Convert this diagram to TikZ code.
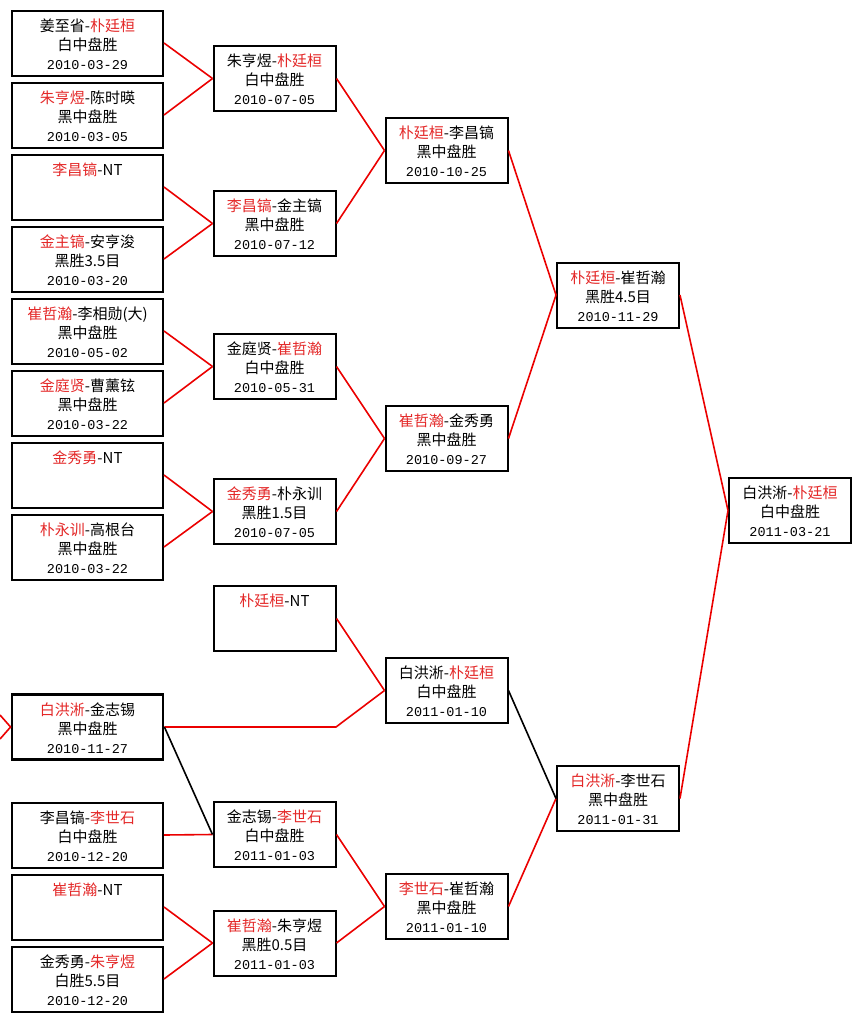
\documentclass[tikz,border=0pt]{standalone}
\usepackage{fontspec}
\setmainfont{Noto Sans CJK SC}
\newfontfamily\datefont{Liberation Mono}
\definecolor{namered}{RGB}{228,40,40}
\definecolor{linered}{RGB}{235,0,0}
\newcommand{\pwin}[1]{\textcolor{namered}{#1}}
\newcommand{\game}[3]{\rule{0pt}{20pt}#1\\\strut#2\\{\datefont\fontsize{13.5}{19}\selectfont\strut#3}}

\begin{document}
\begin{tikzpicture}[x=1pt, y=-1pt,
    game/.style={draw=black, line width=2pt, fill=white, minimum height=65pt, inner sep=0pt, align=center, font=\fontsize{15}{19}\selectfont},
    wide/.style={game, minimum width=151pt},
    narrow/.style={game, minimum width=122pt},
    won/.style={line width=1.6pt, linered},
    lost/.style={line width=1.6pt, black}]
    \useasboundingbox[fill=white] (0,0) rectangle (860,1021);

    % First round
    \node[wide] (R1a) at (87.5,43) {\game{姜至省-\pwin{朴廷桓}}{白中盘胜}{2010-03-29}};
    \node[wide] (R1b) at (87.5,115) {\game{\pwin{朱亨煜}-陈时暎}{黑中盘胜}{2010-03-05}};
    \node[wide] (R1c) at (87.5,187) {\game{\pwin{李昌镐}-NT}{}{}};
    \node[wide] (R1d) at (87.5,259) {\game{\pwin{金主镐}-安亨浚}{黑胜3.5目}{2010-03-20}};
    \node[wide] (R1e) at (87.5,331) {\game{\pwin{崔哲瀚}-李相勋(大)}{黑中盘胜}{2010-05-02}};
    \node[wide] (R1f) at (87.5,403) {\game{\pwin{金庭贤}-曹薰铉}{黑中盘胜}{2010-03-22}};
    \node[wide] (R1g) at (87.5,475) {\game{\pwin{金秀勇}-NT}{}{}};
    \node[wide] (R1h) at (87.5,547) {\game{\pwin{朴永训}-高根台}{黑中盘胜}{2010-03-22}};
    \node[wide, line width=2.8pt] (Wild) at (87.5,727) {\game{\pwin{白洪淅}-金志锡}{黑中盘胜}{2010-11-27}};
    \node[wide] (R1k) at (87.5,835) {\game{李昌镐-\pwin{李世石}}{白中盘胜}{2010-12-20}};
    \node[wide] (R1m) at (87.5,907) {\game{\pwin{崔哲瀚}-NT}{}{}};
    \node[wide] (R1n) at (87.5,979) {\game{金秀勇-\pwin{朱亨煜}}{白胜5.5目}{2010-12-20}};

    % Second round
    \node[narrow] (R2a) at (274.5,78.5) {\game{朱亨煜-\pwin{朴廷桓}}{白中盘胜}{2010-07-05}};
    \node[narrow] (R2b) at (274.5,223.5) {\game{\pwin{李昌镐}-金主镐}{黑中盘胜}{2010-07-12}};
    \node[narrow] (R2c) at (274.5,366.5) {\game{金庭贤-\pwin{崔哲瀚}}{白中盘胜}{2010-05-31}};
    \node[narrow] (R2d) at (274.5,511.5) {\game{\pwin{金秀勇}-朴永训}{黑胜1.5目}{2010-07-05}};
    \node[narrow] (R2e) at (274.5,618.5) {\game{\pwin{朴廷桓}-NT}{}{}};
    \node[narrow] (R2f) at (274.5,834.5) {\game{金志锡-\pwin{李世石}}{白中盘胜}{2011-01-03}};
    \node[narrow] (R2g) at (274.5,943) {\game{\pwin{崔哲瀚}-朱亨煜}{黑胜0.5目}{2011-01-03}};

    % Third round
    \node[narrow] (R3a) at (446.5,150.5) {\game{\pwin{朴廷桓}-李昌镐}{黑中盘胜}{2010-10-25}};
    \node[narrow] (R3b) at (446.5,438.5) {\game{\pwin{崔哲瀚}-金秀勇}{黑中盘胜}{2010-09-27}};
    \node[narrow] (R3c) at (446.5,690.5) {\game{白洪淅-\pwin{朴廷桓}}{白中盘胜}{2011-01-10}};
    \node[narrow] (R3d) at (446.5,906.5) {\game{\pwin{李世石}-崔哲瀚}{黑中盘胜}{2011-01-10}};

    % Semi-finals and final
    \node[narrow] (Semi1) at (618,295) {\game{\pwin{朴廷桓}-崔哲瀚}{黑胜4.5目}{2010-11-29}};
    \node[narrow] (Semi2) at (618,798.5) {\game{\pwin{白洪淅}-李世石}{黑中盘胜}{2011-01-31}};
    \node[narrow] (Final) at (790,510.5) {\game{白洪淅-\pwin{朴廷桓}}{白中盘胜}{2011-03-21}};

    % Loose ends at the left edge and the bend
    \coordinate (InA) at (0,715);
    \coordinate (InB) at (0,739);
    \coordinate (Bend) at (336,727);

    % Winners' paths
    \foreach \a/\b in {R1a/R2a, R1b/R2a, R1c/R2b, R1d/R2b, R1e/R2c, R1f/R2c, R1g/R2d, R1h/R2d,
                       R1k/R2f, R1m/R2g, R1n/R2g,
                       R2a/R3a, R2b/R3a, R2c/R3b, R2d/R3b, R2e/R3c, R2f/R3d, R2g/R3d,
                       R3a/Semi1, R3b/Semi1, R3d/Semi2, Semi1/Final, Semi2/Final}
        \draw[won] (\a.east) -- (\b.west);
    \draw[won] (InA) -- (Wild.west) -- (InB);
    \draw[won] (Wild.east) -- (Bend) -- (R3c.west);

    % Losers' paths
    \draw[lost] (Wild.east) -- (R2f.west);
    \draw[lost] (R3c.east) -- (Semi2.west);
\end{tikzpicture}
\end{document}
